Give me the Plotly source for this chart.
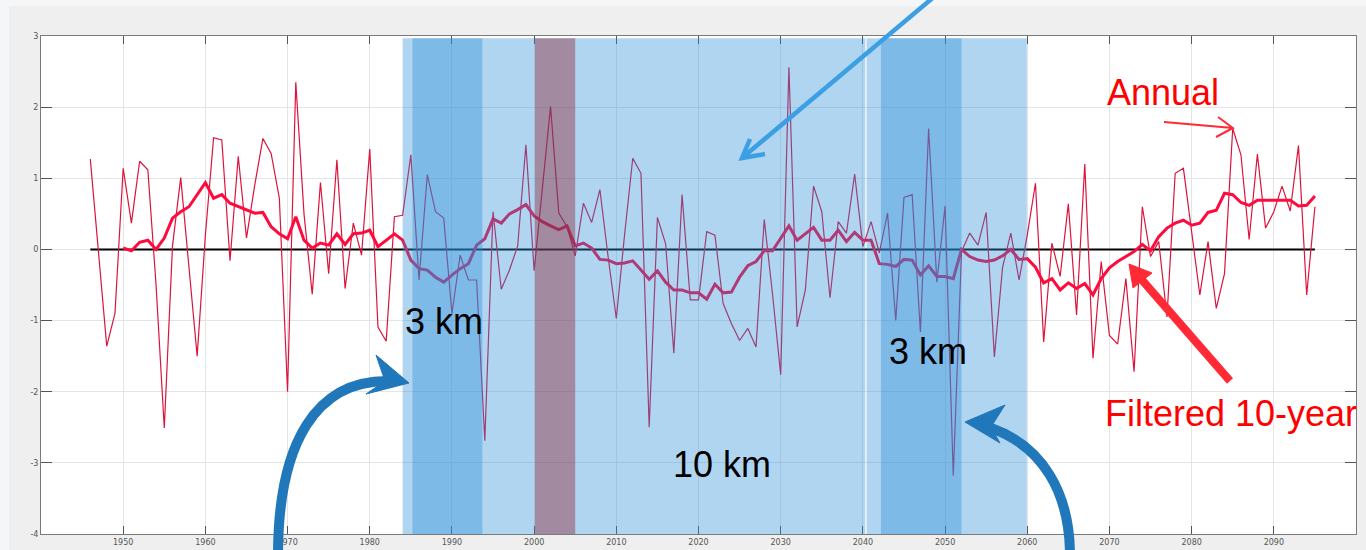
import plotly.graph_objects as go

# ---- series -------------------------------------------------------------
years = list(range(1946, 2096))
annual = [
    1.27, -0.10, -1.36, -0.90, 1.14, 0.37, 1.24, 1.12, -0.50, -2.51,   # 1946-1955
    0.05, 1.01, -0.20, -1.50, 0.20, 1.57, 1.54, -0.16, 1.31, 0.16,     # 1956-1965
    0.90, 1.56, 1.35, 0.72, -2.00, 2.35, 0.50, -0.63, 0.94, -0.34,     # 1966-1975
    1.26, -0.55, 0.37, -0.08, 1.41, -1.09, -1.29, 0.46, 0.48, 1.33,    # 1976-1985
    -0.43, 1.05, 0.53, 0.44, -0.90, -0.08, -0.43, -0.43, -2.69, 0.53,  # 1986-1995
    -0.56, -0.29, 0.05, 1.47, -0.30, 0.85, 2.01, 0.51, 0.32, -0.09,    # 1996-2005
    0.65, 0.38, 0.84, -0.10, -0.97, 0.20, 1.28, 1.07, -2.50, 0.45,     # 2006-2015
    0.08, -1.46, 0.77, -0.71, -0.71, 0.25, 0.20, -0.76, -1.04, -1.28,  # 2016-2025
    -1.11, -1.37, 0.42, -0.62, -1.76, 2.56, -1.09, -0.57, 0.89, 0.53,  # 2026-2035
    -0.68, 0.39, 0.23, 1.06, 0.04, 0.39, -0.05, 0.51, -1.00, 0.73,     # 2036-2045
    0.77, -1.16, 1.70, -0.46, 0.61, -3.18, -0.03, 0.23, 0.06, 0.52,    # 2046-2055
    -1.51, -0.25, 0.23, -0.43, 0.20, 0.93, -1.30, 0.09, -0.38, 0.64,   # 2056-2065
    -0.92, 1.20, -1.53, -0.17, -1.21, -1.33, -0.41, -1.72, 0.60, -0.10,  # 2066-2075
    0.11, -0.95, 1.07, 1.14, 0.27, -0.64, 0.11, -0.83, -0.34, 1.70,    # 2076-2085
    1.33, 0.14, 1.34, 0.30, 0.53, 0.89, 0.54, 1.46, -0.64, 0.60,       # 2086-2095
]

filt_years = list(range(1950, 2096))
filtered = [
    0.02, -0.02, 0.10, 0.13, 0.00, 0.16, 0.44, 0.53, 0.60, 0.77,       # 1950-1959
    0.94, 0.72, 0.77, 0.65, 0.60, 0.55, 0.51, 0.52, 0.32, 0.22,        # 1960-1969
    0.15, 0.46, 0.13, 0.02, 0.09, 0.06, 0.22, 0.07, 0.22, 0.23,        # 1970-1979
    0.27, 0.04, 0.13, 0.22, 0.13, -0.15, -0.27, -0.29, -0.39, -0.46,   # 1980-1989
    -0.36, -0.27, -0.20, 0.06, 0.15, 0.43, 0.37, 0.50, 0.56, 0.63,     # 1990-1999
    0.47, 0.39, 0.33, 0.28, 0.33, 0.05, 0.09, 0.02, -0.14, -0.15,      # 2000-2009
    -0.20, -0.19, -0.16, -0.29, -0.42, -0.30, -0.46, -0.57, -0.57, -0.61,  # 2010-2019
    -0.61, -0.70, -0.49, -0.61, -0.60, -0.39, -0.23, -0.17, -0.02, -0.02,  # 2020-2029
    0.15, 0.33, 0.13, 0.22, 0.31, 0.13, 0.13, 0.27, 0.11, 0.24,        # 2030-2039
    0.13, 0.13, -0.20, -0.21, -0.24, -0.14, -0.15, -0.36, -0.23, -0.38,  # 2040-2049
    -0.38, -0.41, 0.00, -0.10, -0.15, -0.17, -0.15, -0.09, 0.00, -0.14,  # 2050-2059
    -0.13, -0.25, -0.47, -0.41, -0.57, -0.47, -0.55, -0.48, -0.64, -0.41,  # 2060-2069
    -0.26, -0.17, -0.10, -0.03, 0.07, -0.02, 0.18, 0.30, 0.37, 0.41,   # 2070-2079
    0.34, 0.37, 0.52, 0.55, 0.79, 0.77, 0.66, 0.62, 0.69, 0.69,        # 2080-2089
    0.70, 0.70, 0.69, 0.61, 0.62, 0.75,                                # 2090-2095
]

# resolution periods (start year, end year)
period_10km = [(1984.0, 2040.3), (2040.45, 2059.95)]
period_3km = [(1985.2, 1993.7), (2042.2, 2052.0)]
period_obs = (2000.1, 2005.0)

x_ticks = list(range(1950, 2100, 10))
y_ticks = [-4, -3, -2, -1, 0, 1, 2, 3]
y_tick_text = ["-4", "-3", "-2", "-1", "0", "1", "2", "3"]

# ---- geometry helpers (pixel -> paper) ----------------------------------
W, H = 1366, 550
ML, MR, MT, MB = 41, 10, 36, 16
PW, PH = W - ML - MR, H - MT - MB


def px(x):
    return (x - ML) / PW


def py(y):
    return (H - MB - y) / PH


def pt(x, y):
    return f"{px(x):.5f},{py(y):.5f}"


FONT = 'Arial, "Liberation Sans", sans-serif'

fig = go.Figure()

fig.add_trace(go.Scatter(x=[years[0], years[-1]], y=[0, 0], mode="lines",
                         line=dict(color="#000000", width=2), hoverinfo="skip"))
fig.add_trace(go.Scatter(x=years, y=annual, mode="lines", name="Annual",
                         line=dict(color="#dc143c", width=1.2)))
fig.add_trace(go.Scatter(x=filt_years, y=filtered, mode="lines", name="Filtered 10-year",
                         line=dict(color="#ff0a3c", width=3)))

shapes = []
# outer light frame strips
shapes.append(dict(type="rect", xref="paper", yref="paper", layer="below",
                   x0=px(0), x1=px(W), y0=py(6), y1=py(0),
                   fillcolor="#f5f6f8", line=dict(width=0)))
shapes.append(dict(type="rect", xref="paper", yref="paper", layer="below",
                   x0=px(0), x1=px(9), y0=py(H), y1=py(0),
                   fillcolor="#f5f6f8", line=dict(width=0)))

# translucent resolution bands
BAND = "rgba(42,142,217,0.37)"
for a, b in period_10km + period_3km:
    shapes.append(dict(type="rect", xref="x", yref="y", layer="above",
                       x0=a, x1=b, y0=-4, y1=2.968,
                       fillcolor=BAND, line=dict(width=0)))
shapes.append(dict(type="rect", xref="x", yref="y", layer="above",
                   x0=period_obs[0], x1=period_obs[1], y0=-4, y1=2.968,
                   fillcolor="rgba(143,28,43,0.40)", line=dict(width=0)))

# curved blue arrows
BLUE = "#2077b9"
shapes.append(dict(type="path", xref="paper", yref="paper", layer="above",
                   path=f"M{pt(278,556)} C{pt(278,441)} {pt(317,381)} {pt(387,381)}",
                   line=dict(color=BLUE, width=10)))
shapes.append(dict(type="path", xref="paper", yref="paper", layer="above",
                   path=f"M{pt(376,355)} L{pt(409,383)} L{pt(366,394)} L{pt(385,381)} Z",
                   fillcolor=BLUE, line=dict(color=BLUE, width=1)))
shapes.append(dict(type="path", xref="paper", yref="paper", layer="above",
                   path=f"M{pt(1070,556)} C{pt(1070,492)} {pt(1042,446)} {pt(991,428)}",
                   line=dict(color=BLUE, width=10)))
shapes.append(dict(type="path", xref="paper", yref="paper", layer="above",
                   path=f"M{pt(1005,405)} L{pt(965,422)} L{pt(1000,443)} L{pt(991,427)} Z",
                   fillcolor=BLUE, line=dict(color=BLUE, width=1)))

# straight light-blue pointer
LBLUE = "#3c9fe4"
shapes.append(dict(type="path", xref="paper", yref="paper", layer="above",
                   path=f"M{pt(935,-4)} L{pt(742,158)} M{pt(750,139)} L{pt(742,158)} L{pt(765,154)}",
                   line=dict(color=LBLUE, width=4.5)))

# red pointers
RED = "#ff2a35"
shapes.append(dict(type="path", xref="paper", yref="paper", layer="above",
                   path=f"M{pt(1164,122)} L{pt(1233,128)} M{pt(1218,117)} L{pt(1233,128)} L{pt(1216,137)}",
                   line=dict(color=RED, width=2)))
shapes.append(dict(type="path", xref="paper", yref="paper", layer="above",
                   path=f"M{pt(1230,381)} L{pt(1142,280)}",
                   line=dict(color=RED, width=8)))
shapes.append(dict(type="path", xref="paper", yref="paper", layer="above",
                   path=f"M{pt(1129,264)} L{pt(1152,273)} L{pt(1133,288)} Z",
                   fillcolor=RED, line=dict(color=RED, width=1)))

annotations = [
    dict(x=1984.1, y=-1.01, text="3 km", font=dict(color="#000000")),
    dict(x=2042.9, y=-1.44, text="3 km", font=dict(color="#000000")),
    dict(x=2016.7, y=-3.03, text="10 km", font=dict(color="#000000")),
    dict(x=2069.5, y=2.21, text="Annual", font=dict(color="#ff0000")),
    dict(x=2069.2, y=-2.30, text="Filtered 10-year", font=dict(color="#ff0000")),
]
for a in annotations:
    a.update(xref="x", yref="y", showarrow=False, xanchor="left", yanchor="middle")
    a["font"].update(size=36, family=FONT)

axis_common = dict(showgrid=True, gridcolor="#e4e4e4", gridwidth=1,
                   showline=True, linecolor="#7a7a7a", linewidth=1, mirror="ticks",
                   ticks="inside", tickcolor="#555555", zeroline=False,
                   automargin=False,
                   tickfont=dict(family="DejaVu Sans", size=8, color="#555555"))

fig.update_layout(
    width=W, height=H,
    margin=dict(l=ML, r=MR, t=MT, b=MB, pad=0, autoexpand=False),
    paper_bgcolor="#efefef", plot_bgcolor="#ffffff",
    showlegend=False,
    shapes=shapes, annotations=annotations,
    xaxis=dict(range=[1940, 2100], tickvals=x_ticks, ticklen=8, **axis_common),
    yaxis=dict(range=[-4, 3], tickvals=y_ticks, ticktext=y_tick_text, ticklen=11,
               **axis_common),
)

fig.write_html("out.html")
